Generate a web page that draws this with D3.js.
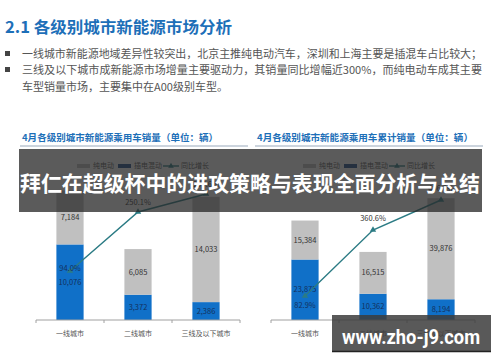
<!DOCTYPE html>
<html>
<head>
<meta charset="utf-8">
<script src="https://cdn.jsdelivr.net/npm/d3@7"></script>
<style>
  body { margin: 0; background: #fff; }
  svg { display: block; font-family: "Noto Sans CJK SC", "Noto Sans", sans-serif; }
</style>
</head>
<body>
<div id="chart"></div>
<script>
// data
const cities = ["一线城市", "二线城市", "三线及以下城市"]
const monthEV = [7184, 6085, 14033]
const monthPHEV = [10076, 3372, 2386]
const monthGrowth = [94.0, 250.1, 297.6]
const cumEV = [15384, 16515, 39876]
const cumPHEV = [23875, 10362, 8194]
const cumGrowth = [82.9, 360.6, 486.8]
const legendNames = ["纯电动", "插电混动", "同比增长"]
const pageTitle = "2.1 各级别城市新能源市场分析"
const bulletLines = [
    "一线城市新能源地域差异性较突出，北京主推纯电动汽车，深圳和上海主要是插混车占比较大；",
    "三线及以下城市成新能源市场增量主要驱动力，其销量同比增幅近300%，而纯电动车成其主要",
    "车型销量市场，主要集中在A00级别车型。"
]
const chartTitles = ["4月各级别城市新能源乘用车销量（单位：辆）", "4月各级别城市新能源乘用车累计销量（单位：辆）"]
const bannerText = "拜仁在超级杯中的进攻策略与表现全面分析与总结"
const watermark = "www.zho-j9.com"

const width = 500
const height = 362

const blue = "#1070c8"
const gray = "#c0c0c0"
const teal = "#2b7b84"
const titleBlue = "#1d6fb8"

const svg = d3.select("#chart")
    .append("svg")
    .attr("width", width)
    .attr("height", height)

svg.append("rect").attr("width", width).attr("height", height).attr("fill", "#fff")

// page heading
svg.append("text")
    .attr("x", 5).attr("y", 33)
    .attr("textLength", 227).attr("lengthAdjust", "spacingAndGlyphs")
    .style("font-size", "16px").style("font-weight", "bold")
    .style("fill", titleBlue)
    .text(pageTitle)

// bullets
bulletLines.forEach((line, i) => {
    const y = [58, 74, 91][i]
    if (i < 2) {
        svg.append("rect")
            .attr("x", 5).attr("y", y - 7).attr("width", 5).attr("height", 5)
            .attr("fill", "#444")
    }
    const t = svg.append("text")
        .attr("x", 22).attr("y", y)
        .style("font-size", "11px")
        .style("fill", "#555")
        .text(line)
    if (i < 2) t.attr("textLength", 460).attr("lengthAdjust", "spacingAndGlyphs")
})

const charts = [
    { x0: 36, x1: 240, title: chartTitles[0], titleX: 22, titleW: 196, ruleX0: 20, ruleX1: 248,
      ev: monthEV, phev: monthPHEV, growth: monthGrowth,
      yMax: 20000, yTop: 170, gMax: 400, gRange: [306.5, 155.3], pctDy: [-3, -10, -10], legendX: 77 },
    { x0: 271, x1: 475, title: chartTitles[1], titleX: 257, titleW: 216, ruleX0: 255, ruleX1: 483,
      ev: cumEV, phev: cumPHEV, growth: cumGrowth,
      yMax: 60000, yTop: 168, gMax: 600, gRange: [315.7, 173.1], pctDy: [9, -12, -12], legendX: 303 }
]

const baseY = 320

charts.forEach(c => {
    const g = svg.append("g")

    // chart title + rule
    g.append("text")
        .attr("x", c.titleX).attr("y", 141)
        .attr("textLength", c.titleW).attr("lengthAdjust", "spacingAndGlyphs")
        .style("font-size", "9.5px").style("font-weight", "bold")
        .style("fill", titleBlue)
        .text(c.title)
    g.append("line")
        .attr("x1", c.ruleX0).attr("x2", c.ruleX1)
        .attr("y1", 146).attr("y2", 146)
        .attr("stroke", "#9aaabb").attr("stroke-width", 1.2)

    const x = d3.scaleBand()
        .domain(cities)
        .range([c.x0, c.x1])
        .paddingInner(0.6)
        .paddingOuter(0.3)

    const y = d3.scaleLinear()
        .domain([0, c.yMax])
        .range([baseY, c.yTop])

    const yg = d3.scaleLinear()
        .domain([0, c.gMax])
        .range(c.gRange)

    const rows = cities.map((city, i) => ({ city: city, phev: c.phev[i], ev: c.ev[i], growth: c.growth[i] }))
    const stack = d3.stack().keys(["phev", "ev"])(rows)
    const fills = { phev: blue, ev: gray }
    const labelFill = { phev: "#13315e", ev: "#333" }

    stack.forEach(layer => {
        g.selectAll(null)
            .data(layer)
            .join("rect")
            .attr("x", d => x(d.data.city))
            .attr("y", d => y(d[1]))
            .attr("width", x.bandwidth())
            .attr("height", d => y(d[0]) - y(d[1]))
            .attr("fill", fills[layer.key])

        g.selectAll(null)
            .data(layer)
            .join("text")
            .attr("x", d => x(d.data.city) + x.bandwidth() / 2)
            .attr("y", d => (y(d[0]) + y(d[1])) / 2)
            .attr("dy", "0.35em")
            .attr("text-anchor", "middle")
            .style("font-size", "7.5px")
            .style("fill", labelFill[layer.key])
            .text(d => d3.format(",")(d.data[layer.key]))
    })

    // axis
    const step = x.step()
    g.append("line")
        .attr("x1", c.x0).attr("x2", c.x1)
        .attr("y1", baseY).attr("y2", baseY)
        .attr("stroke", "#a0a0a0")
    const edges = cities.map(d => x(d) + x.bandwidth() / 2 - step / 2).concat([c.x1])
    g.selectAll(null)
        .data(edges)
        .join("line")
        .attr("x1", d => d).attr("x2", d => d)
        .attr("y1", baseY).attr("y2", baseY + 3)
        .attr("stroke", "#a0a0a0")
    g.selectAll(null)
        .data(cities)
        .join("text")
        .attr("x", d => x(d) + x.bandwidth() / 2)
        .attr("y", 334)
        .attr("dy", "0.35em")
        .attr("text-anchor", "middle")
        .style("font-size", "7px")
        .style("fill", "#555")
        .text(d => d)

    // growth line
    const line = d3.line()
        .x(d => x(d.city) + x.bandwidth() / 2)
        .y(d => yg(d.growth))
    g.append("path")
        .datum(rows)
        .attr("d", line)
        .attr("fill", "none")
        .attr("stroke", teal)
        .attr("stroke-width", 1.4)
    g.selectAll(null)
        .data(rows)
        .join("path")
        .attr("transform", d => `translate(${x(d.city) + x.bandwidth() / 2},${yg(d.growth)})`)
        .attr("d", d3.symbol(d3.symbolTriangle, 18))
        .attr("fill", teal)
    g.selectAll(null)
        .data(rows)
        .join("text")
        .attr("x", d => x(d.city) + x.bandwidth() / 2)
        .attr("y", (d, i) => yg(d.growth) + c.pctDy[i])
        .attr("dy", "0.35em")
        .attr("text-anchor", "middle")
        .style("font-size", "7.5px")
        .style("fill", (d, i) => c.pctDy[i] > -5 ? "#13315e" : "#333")
        .text(d => d.growth.toFixed(1) + "%")

    // legend
    const lg = g.append("g").attr("transform", `translate(${c.legendX},166)`)
    lg.append("rect").attr("x", 0).attr("y", -2).attr("width", 13).attr("height", 4).attr("fill", gray)
    lg.append("text").attr("x", 16).attr("dy", "0.35em").style("font-size", "7px").style("fill", "#555").text(legendNames[0])
    lg.append("rect").attr("x", 41).attr("y", -2).attr("width", 13).attr("height", 4).attr("fill", "#1f4e8c")
    lg.append("text").attr("x", 57).attr("dy", "0.35em").style("font-size", "7px").style("fill", "#555").text(legendNames[1])
    lg.append("line").attr("x1", 86).attr("x2", 102).attr("stroke", teal).attr("stroke-width", 1.4)
    lg.append("path").attr("transform", "translate(94,0)").attr("d", d3.symbol(d3.symbolTriangle, 14)).attr("fill", teal)
    lg.append("text").attr("x", 104).attr("dy", "0.35em").style("font-size", "7px").style("fill", "#555").text(legendNames[2])
})

// overlay banner
svg.append("rect")
    .attr("x", 19).attr("y", 149)
    .attr("width", 463).attr("height", 63)
    .attr("fill", "rgba(40,40,40,0.76)")
svg.append("text")
    .attr("x", 20).attr("y", 191)
    .attr("textLength", 460).attr("lengthAdjust", "spacingAndGlyphs")
    .style("font-size", "21px").style("font-weight", "bold")
    .style("fill", "#fff")
    .text(bannerText)

// watermark
svg.append("rect")
    .attr("x", 332).attr("y", 315)
    .attr("width", 159).attr("height", 36)
    .attr("fill", "rgba(60,60,60,0.85)")
svg.append("line")
    .attr("x1", 332).attr("x2", 491)
    .attr("y1", 351.5).attr("y2", 351.5)
    .attr("stroke", "#222").attr("stroke-width", 1.5)
svg.append("text")
    .attr("x", 342).attr("y", 344)
    .attr("textLength", 138).attr("lengthAdjust", "spacingAndGlyphs")
    .style("font-size", "20px").style("font-weight", "bold")
    .style("font-family", "Roboto, 'DejaVu Sans', sans-serif")
    .style("fill", "#fff")
    .text(watermark)
</script>
</body>
</html>
